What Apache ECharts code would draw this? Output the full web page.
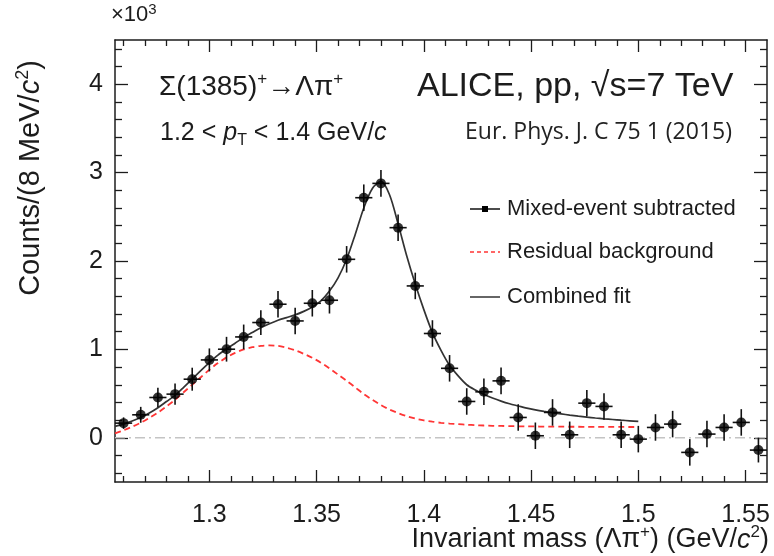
<!DOCTYPE html>
<html><head><meta charset="utf-8">
<script src="https://cdn.jsdelivr.net/npm/echarts@6/dist/echarts.min.js"></script>
<style>html,body{margin:0;padding:0;background:#fff}#c{width:774px;height:556px}</style>
</head><body><div id="c"></div>
<script>
// ---- data (y in units of 10^3 counts) ----
const binCenters = [1.260,1.268,1.276,1.284,1.292,1.300,1.308,1.316,1.324,1.332,1.340,1.348,1.356,1.364,1.372,1.380,1.388,1.396,1.404,1.412,1.420,1.428,1.436,1.444,1.452,1.460,1.468,1.476,1.484,1.492,1.500,1.508,1.516,1.524,1.532,1.540,1.548,1.556];
const counts = [0.166,0.26,0.456,0.494,0.663,0.881,1.002,1.141,1.304,1.511,1.322,1.522,1.556,2.019,2.716,2.878,2.377,1.718,1.18,0.786,0.411,0.52,0.644,0.23,0.023,0.287,0.034,0.392,0.355,0.034,-0.015,0.117,0.155,-0.165,0.042,0.117,0.174,-0.139];
const countErrors = [0.065,0.09,0.11,0.12,0.13,0.13,0.14,0.14,0.14,0.15,0.15,0.15,0.15,0.15,0.15,0.15,0.15,0.15,0.15,0.15,0.15,0.15,0.15,0.15,0.15,0.15,0.15,0.15,0.15,0.15,0.15,0.15,0.15,0.15,0.15,0.15,0.15,0.14];
const binHalfWidth = 0.004;
const curveX = [1.256,1.260,1.264,1.268,1.272,1.276,1.280,1.284,1.288,1.292,1.296,1.300,1.304,1.308,1.312,1.316,1.320,1.324,1.328,1.332,1.336,1.340,1.344,1.348,1.352,1.356,1.360,1.364,1.368,1.372,1.376,1.380,1.384,1.388,1.392,1.396,1.400,1.404,1.408,1.412,1.416,1.420,1.424,1.428,1.432,1.436,1.440,1.444,1.448,1.452,1.456,1.460,1.464,1.468,1.472,1.476,1.480,1.484,1.488,1.492,1.496,1.500];
const fitY = [0.13,0.155,0.19,0.23,0.28,0.34,0.41,0.48,0.57,0.665,0.76,0.85,0.935,1.005,1.07,1.135,1.19,1.245,1.29,1.33,1.36,1.39,1.43,1.48,1.55,1.66,1.81,2.02,2.30,2.60,2.82,2.90,2.75,2.42,2.06,1.74,1.45,1.19,0.99,0.82,0.70,0.60,0.54,0.49,0.45,0.415,0.385,0.36,0.335,0.315,0.298,0.283,0.27,0.257,0.245,0.234,0.224,0.215,0.207,0.199,0.192,0.185];
const bkgY = [0.05,0.085,0.125,0.17,0.225,0.285,0.355,0.43,0.515,0.60,0.685,0.77,0.845,0.91,0.96,1.00,1.025,1.04,1.045,1.04,1.02,0.99,0.95,0.905,0.85,0.785,0.715,0.645,0.57,0.495,0.43,0.37,0.32,0.28,0.245,0.218,0.197,0.182,0.17,0.161,0.154,0.148,0.143,0.139,0.136,0.134,0.132,0.13,0.129,0.128,0.127,0.126,0.126,0.125,0.125,0.124,0.124,0.123,0.123,0.123,0.122,0.122];
const zeroLineX = [1.256,1.56];
const zeroLineY = [0,0];
const xMajorTicks = [1.3,1.35,1.4,1.45,1.5,1.55];
const xMinorTicks = [1.26,1.27,1.28,1.29,1.31,1.32,1.33,1.34,1.36,1.37,1.38,1.39,1.41,1.42,1.43,1.44,1.46,1.47,1.48,1.49,1.51,1.52,1.53,1.54];
const yMajorTicks = [0,1,2,3,4];
const yMinorTicks = [-0.4,-0.2,0.2,0.4,0.6,0.8,1.2,1.4,1.6,1.8,2.2,2.4,2.6,2.8,3.2,3.4,3.6,3.8,4.2,4.4];

const FONT = "'Liberation Sans', Arial, Helvetica, sans-serif";
const INK = '#1c1c1c';
const zip = (a, b) => a.map((v, i) => [v, b[i]]);

const chart = echarts.init(document.getElementById('c'), null, {renderer: 'canvas'});

function xAx(pos, ticks, len, showLine, showLabel) {
  return {
    type: 'value', min: 1.256, max: 1.56, position: pos,
    axisLine: {show: showLine, onZero: false, lineStyle: {color: INK, width: 1.5}},
    axisTick: {show: true, inside: true, length: len, customValues: ticks, lineStyle: {color: INK, width: 1.3}},
    axisLabel: {show: showLabel, customValues: ticks, fontSize: 25, color: INK, fontFamily: FONT, margin: 21,
      formatter: v => String(+v.toFixed(3))},
    splitLine: {show: false}, minorTick: {show: false}
  };
}
function yAx(pos, ticks, len, showLine, showLabel) {
  return {
    type: 'value', min: -0.5, max: 4.5, position: pos,
    axisLine: {show: showLine, onZero: false, lineStyle: {color: INK, width: 1.5}},
    axisTick: {show: true, inside: true, length: len, customValues: ticks, lineStyle: {color: INK, width: 1.3}},
    axisLabel: {show: showLabel, customValues: ticks, fontSize: 25, color: INK, fontFamily: FONT, margin: 12,
      formatter: v => String(Math.round(v))},
    splitLine: {show: false}, minorTick: {show: false}
  };
}

const sup = {fontSize: 15, verticalAlign: 'top', fontFamily: FONT, fill: INK, lineHeight: 15};

const option = {
  animation: false,
  backgroundColor: '#fff',
  grid: {left: 115, top: 40, right: 7, bottom: 74, containLabel: false},
  xAxis: [
    xAx('bottom', xMajorTicks, 12, true, true),
    xAx('bottom', xMinorTicks, 6, false, false),
    xAx('top', xMajorTicks, 12, true, false),
    xAx('top', xMinorTicks, 6, false, false)
  ],
  yAxis: [
    yAx('left', yMajorTicks, 13, true, true),
    yAx('left', yMinorTicks, 7, false, false),
    yAx('right', yMajorTicks, 13, true, false),
    yAx('right', yMinorTicks, 7, false, false)
  ],
  series: [
    {name: 'zero', type: 'line', data: zip(zeroLineX, zeroLineY), symbol: 'none', silent: true,
      lineStyle: {color: '#c4c4c4', width: 1.5, type: [10, 4, 2, 4]}, z: 1},
    {name: 'Residual background', type: 'line', data: zip(curveX, bkgY), symbol: 'none', smooth: 0.3,
      lineStyle: {color: '#ff3535', width: 1.8, type: [6, 4]}, z: 2},
    {name: 'Combined fit', type: 'line', data: zip(curveX, fitY), symbol: 'none', smooth: 0.3,
      lineStyle: {color: '#333', width: 1.7}, z: 3},
    {name: 'errors', type: 'custom', z: 4,
      data: binCenters.map((x, i) => [x, counts[i], countErrors[i]]),
      encode: {x: 0, y: 1},
      renderItem: (params, api) => {
        const x = api.value(0), y = api.value(1), e = api.value(2);
        const lo = api.coord([x, y - e]), hi = api.coord([x, y + e]);
        const l = api.coord([x - binHalfWidth, y]), r = api.coord([x + binHalfWidth, y]);
        return {type: 'group', children: [
          {type: 'line', shape: {x1: lo[0], y1: lo[1], x2: hi[0], y2: hi[1]}, style: {stroke: '#111', lineWidth: 1.6}},
          {type: 'line', shape: {x1: l[0], y1: l[1], x2: r[0], y2: r[1]}, style: {stroke: '#111', lineWidth: 1.6}}
        ]};
      }},
    {name: 'Mixed-event subtracted', type: 'scatter', data: zip(binCenters, counts), symbol: 'circle', symbolSize: 10,
      itemStyle: {color: '#000'}, z: 5}
  ],
  graphic: [
    {type: 'text', x: 111, y: 15, style: {text: '{a|×10}{s|3}', verticalAlign: 'middle', textVerticalAlign: 'middle',
      rich: {a: {fontSize: 22, fontFamily: FONT, fill: INK, lineHeight: 26}, s: sup}}},
    {type: 'text', x: 159, y: 87, style: {text: '{a|Σ(1385)}{s|+}{a|→Λπ}{s|+}', verticalAlign: 'middle', textVerticalAlign: 'middle',
      rich: {a: {fontSize: 28, fontFamily: FONT, fill: INK, lineHeight: 32}, s: {fontSize: 17, verticalAlign: 'top', fontFamily: FONT, fill: INK, lineHeight: 17}}}},
    {type: 'text', x: 417, y: 87, style: {text: 'ALICE, pp, √s=7 TeV', fontSize: 34, fontFamily: FONT, fill: INK,
      verticalAlign: 'middle', textVerticalAlign: 'middle'}},
    {type: 'text', x: 160, y: 133, style: {text: '{a|1.2 < }{i|p}{b|T}{a| < 1.4 GeV/}{i|c}', verticalAlign: 'middle', textVerticalAlign: 'middle',
      rich: {a: {fontSize: 25, fontFamily: FONT, fill: INK, lineHeight: 32},
             i: {fontSize: 25, fontFamily: FONT, fill: INK, fontStyle: 'italic', lineHeight: 32},
             b: {fontSize: 16, fontFamily: FONT, fill: INK, verticalAlign: 'bottom', lineHeight: 16}}}},
    {type: 'text', x: 465, y: 132, style: {text: 'Eur. Phys. J. C 75 1 (2015)', fontSize: 23, fontFamily: "'Open Sans', 'Noto Sans', sans-serif", fill: '#222',
      verticalAlign: 'middle', textVerticalAlign: 'middle'}},
    {type: 'line', shape: {x1: 470, y1: 209, x2: 500, y2: 209}, style: {stroke: '#111', lineWidth: 1.5}},
    {type: 'rect', shape: {x: 482, y: 206, width: 6, height: 6}, style: {fill: '#000'}},
    {type: 'text', x: 507, y: 209, style: {text: 'Mixed-event subtracted', fontSize: 22, fontFamily: FONT, fill: INK, verticalAlign: 'middle', textVerticalAlign: 'middle'}},
    {type: 'line', shape: {x1: 470, y1: 252, x2: 500, y2: 252}, style: {stroke: '#ff3535', lineWidth: 1.5, lineDash: [4, 3]}},
    {type: 'text', x: 507, y: 252, style: {text: 'Residual background', fontSize: 22, fontFamily: FONT, fill: INK, verticalAlign: 'middle', textVerticalAlign: 'middle'}},
    {type: 'line', shape: {x1: 470, y1: 297, x2: 500, y2: 297}, style: {stroke: '#333', lineWidth: 1.5}},
    {type: 'text', x: 507, y: 297, style: {text: 'Combined fit', fontSize: 22, fontFamily: FONT, fill: INK, verticalAlign: 'middle', textVerticalAlign: 'middle'}},
    {type: 'text', x: 31, y: 178, rotation: Math.PI / 2, style: {text: '{a|Counts/(8 MeV/}{i|c}{s|2}{a|)}',
      align: 'center', textAlign: 'center', verticalAlign: 'middle', textVerticalAlign: 'middle',
      rich: {a: {fontSize: 29, fontFamily: FONT, fill: INK, lineHeight: 34},
             i: {fontSize: 29, fontFamily: FONT, fill: INK, fontStyle: 'italic', lineHeight: 34},
             s: {fontSize: 18, fontFamily: FONT, fill: INK, verticalAlign: 'top', lineHeight: 18}}}},
    {type: 'text', x: 769, y: 540, style: {text: '{a|Invariant mass (Λπ}{s|+}{a|) (GeV/}{i|c}{s|2}{a|)}',
      align: 'right', textAlign: 'right', verticalAlign: 'middle', textVerticalAlign: 'middle',
      rich: {a: {fontSize: 27, fontFamily: FONT, fill: INK, lineHeight: 32},
             i: {fontSize: 27, fontFamily: FONT, fill: INK, fontStyle: 'italic', lineHeight: 32},
             s: {fontSize: 17, fontFamily: FONT, fill: INK, verticalAlign: 'top', lineHeight: 17}}}}
  ]
};
chart.setOption(option);
</script>
</body></html>
